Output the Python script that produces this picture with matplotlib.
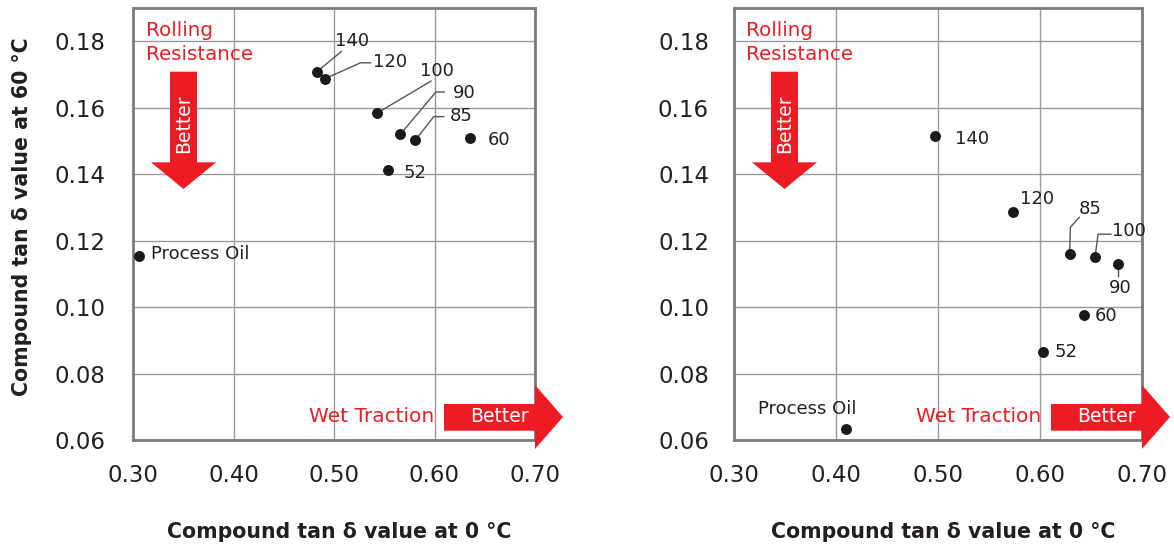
import matplotlib
matplotlib.use("Agg")
import matplotlib.pyplot as plt
from matplotlib.patches import Polygon
from matplotlib.transforms import Affine2D, ScaledTranslation

# ---------------- data ----------------
labels = ['140', '120', '100', '90', '85', '60', '52', 'Process Oil']
left_x = [0.483, 0.491, 0.5425, 0.566, 0.581, 0.635, 0.5535, 0.3055]
left_y = [0.1708, 0.1687, 0.1583, 0.1520, 0.1503, 0.1509, 0.1414, 0.1155]
right_x = [0.497, 0.574, 0.654, 0.676, 0.629, 0.643, 0.6025, 0.410]
right_y = [0.1515, 0.1285, 0.1151, 0.1130, 0.1160, 0.0975, 0.0865, 0.0633]
x_ticks = [0.30, 0.40, 0.50, 0.60, 0.70]
x_ticklabels = ['0.30', '0.40', '0.50', '0.60', '0.70']
y_ticks = [0.06, 0.08, 0.10, 0.12, 0.14, 0.16, 0.18]
y_ticklabels = ['0.06', '0.08', '0.10', '0.12', '0.14', '0.16', '0.18']
xlabel = 'Compound tan δ value at 0 °C'
ylabel = 'Compound tan δ value at 60 °C'

# label placement: (text offset px (y down), horizontal alignment, leader vertices px)
left_layout = {
    '140': ((17.7, -31.3), 'left', [(0, 0), (24.4, -20.3)]),
    '120': ((48, -17.2), 'left', [(0, 0), (35.6, -16), (45.6, -16)]),
    '100': ((43.7, -42.5), 'left', [(0, 0), (54.3, -32.3)]),
    '90': ((52.3, -41.2), 'left', [(0, 0), (35.6, -42.3), (44, -42.3)]),
    '85': ((34, -24), 'left', [(0, 0), (18.4, -23.3), (28.4, -23.3)]),
    '60': ((17.6, 1.7), 'left', None),
    '52': ((16, 3.4), 'left', None),
    'Process Oil': ((12.1, -2), 'left', None),
}
right_layout = {
    '140': ((20.3, 2.7), 'left', None),
    '120': ((6.6, -13.3), 'left', None),
    '100': ((16.5, -26), 'left', [(0, 0), (3, -22.7), (15.8, -22.7)]),
    '90': ((-8.4, 24), 'left', [(0, 0), (0, 11.7)]),
    '85': ((8.8, -45), 'left', [(0, 0), (0.8, -26.6), (9.6, -36.6)]),
    '60': ((11, 1), 'left', None),
    '52': ((12.1, 0), 'left', None),
    'Process Oil': ((-38.5, -19.7), 'center', None),
}

RED = '#ED1C24'
TXT = '#231F20'

W, H = 1174, 548
fig = plt.figure(figsize=(W / 100, H / 100), dpi=100)

panels = [
    (133, 535, left_x, left_y, left_layout, True),
    (734, 1142, right_x, right_y, right_layout, False),
]
top_px, bot_px = 8, 440

for (x0, x1, xs, ys, layout, show_ylabel) in panels:
    ax = fig.add_axes([x0 / W, (H - bot_px) / H, (x1 - x0) / W, (bot_px - top_px) / H])
    ax.set_xlim(0.30, 0.70)
    ax.set_ylim(0.06, 0.19)
    ax.set_xticks(x_ticks)
    ax.set_xticklabels(x_ticklabels)
    ax.set_yticks(y_ticks)
    ax.set_yticklabels(y_ticklabels)
    ax.tick_params(length=0, labelsize=16.5, labelcolor=TXT)
    ax.tick_params(axis='x', pad=17)
    ax.tick_params(axis='y', pad=20 if show_ylabel else 18)
    ax.grid(True, color='#9a9a9a', lw=1.0)
    ax.set_axisbelow(True)
    for s in ax.spines.values():
        s.set_color('#7a7a7a')
        s.set_linewidth(2.0)

    ax.scatter(xs, ys, s=62, color='#1a1a1a', zorder=5, linewidths=0)

    for lab, x, y in zip(labels, xs, ys):
        (tdx, tdy), ha, leader = layout[lab]
        tr = Affine2D().scale(fig.dpi / 100, -fig.dpi / 100) + ScaledTranslation(x, y, ax.transData)
        if leader is not None:
            ax.plot([p[0] for p in leader], [p[1] for p in leader], color='#555555', lw=1.0,
                    transform=tr, zorder=4, clip_on=False)
        ax.text(tdx, tdy, lab, transform=tr, ha=ha, va='center', fontsize=13,
                color=TXT, zorder=6)

    aw, ah = x1 - x0, bot_px - top_px

    def fx(px_from_left):
        return px_from_left / aw

    def fy(px_from_top):
        return 1 - px_from_top / ah

    # Rolling resistance annotation
    ax.text(fx(12.5), fy(22.7), 'Rolling', transform=ax.transAxes, ha='left', va='center',
            fontsize=14.3, color=RED)
    ax.text(fx(12.5), fy(47), 'Resistance', transform=ax.transAxes, ha='left', va='center',
            fontsize=14.3, color=RED)
    down = Polygon([(fx(37), fy(63.7)), (fx(64), fy(63.7)), (fx(64), fy(154.3)), (fx(83), fy(154.3)),
                    (fx(50.5), fy(181)), (fx(18), fy(154.3)), (fx(37), fy(154.3))],
                   closed=True, transform=ax.transAxes, facecolor=RED, edgecolor='none',
                   clip_on=False, zorder=3)
    ax.add_patch(down)
    ax.text(fx(50.5), fy(116), 'Better', transform=ax.transAxes, rotation=90, ha='center', va='center',
            fontsize=13.5, color='white', zorder=4)

    # Wet traction annotation
    ax.text(fx(aw - 101), 24 / ah, 'Wet Traction', transform=ax.transAxes, ha='right',
            va='center', fontsize=14.5, color=RED)
    right = Polygon([(fx(aw - 91), 36 / ah), (fx(aw), 36 / ah), (fx(aw), 55 / ah), (fx(aw + 28), 23 / ah),
                     (fx(aw), -9 / ah), (fx(aw), 9.3 / ah), (fx(aw - 91), 9.3 / ah)],
                    closed=True, transform=ax.transAxes, facecolor=RED, edgecolor='none',
                    clip_on=False, zorder=3)
    ax.add_patch(right)
    ax.text(fx(aw - 36), 23.3 / ah, 'Better', transform=ax.transAxes, ha='center', va='center',
            fontsize=13.5, color='white', zorder=4)

    # axis labels
    fig.text(((x0 + x1) / 2 + 5) / W, 1 - 531.7 / H, xlabel, ha='center', va='center',
             fontsize=14.8, fontweight='bold', color=TXT)
    if show_ylabel:
        fig.text(22 / W, 1 - 217 / H, ylabel, ha='center', va='center', rotation=90,
                 fontsize=14.8, fontweight='bold', color=TXT)

fig.savefig('out.png', dpi=100)
